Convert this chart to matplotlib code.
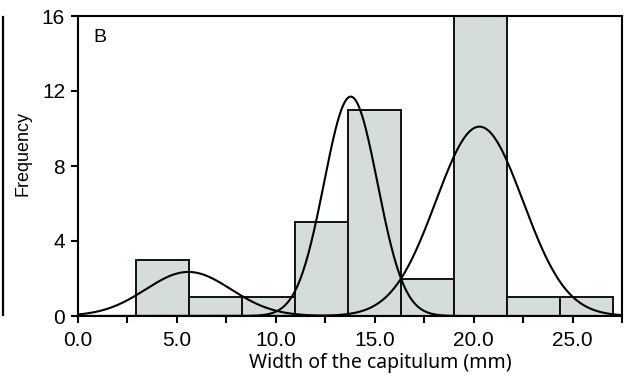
import numpy as np
import matplotlib
matplotlib.use("Agg")
import matplotlib.pyplot as plt
from matplotlib.lines import Line2D
from matplotlib.ticker import MultipleLocator, FormatStrFormatter

# Histogram of capitulum width
bin_edges = [2.95, 5.63, 8.31, 10.99, 13.67, 16.35, 19.03, 21.71, 24.39, 27.07]
counts = [3, 1, 1, 5, 11, 2, 16, 1, 1]

# Fitted normal components: mean, standard deviation, peak height
comp_means = [5.6, 13.8, 20.3]
comp_sds = [2.15, 1.35, 2.2]
comp_peaks = [2.35, 11.7, 10.1]

x_ticks = [0, 5, 10, 15, 20, 25]
y_ticks = [0, 4, 8, 12, 16]

W, H = 627, 384
fig = plt.figure(figsize=(W / 100, H / 100), dpi=100)
ax = fig.add_axes([77.5 / W, 1 - 316 / H, (622 - 77.5) / W, 300 / H])

widths = np.diff(bin_edges)
ax.bar(bin_edges[:-1], counts, width=widths, align="edge",
       color="#d4dddb", edgecolor="#111111", linewidth=1.4, zorder=2)

xs = np.linspace(0, 27.5, 600)
for m, s, p in zip(comp_means, comp_sds, comp_peaks):
    ax.plot(xs, p * np.exp(-0.5 * ((xs - m) / s) ** 2), color="black",
            linewidth=1.5, zorder=3)

ax.set_xlim(0, 27.5)
ax.set_ylim(0, 16)
ax.set_xticks(x_ticks)
ax.xaxis.set_minor_locator(MultipleLocator(2.5))
ax.xaxis.set_major_formatter(FormatStrFormatter("%.1f"))
ax.set_yticks(y_ticks)

for sp in ax.spines.values():
    sp.set_linewidth(1.5)
    sp.set_color("black")

ax.tick_params(axis="both", which="both", direction="out", width=1.5,
               length=5, color="black")
ax.tick_params(axis="x", which="major", labelsize=15, pad=6)
ax.tick_params(axis="y", which="major", labelsize=15, pad=4)
for lab in ax.get_xticklabels() + ax.get_yticklabels():
    lab.set_fontfamily(["Liberation Sans", "DejaVu Sans"])

ax.text(0.03, 0.93, "B", transform=ax.transAxes, fontsize=14,
        family=["Liberation Sans", "DejaVu Sans"], va="center", ha="left")

fig.text(380 / W, 1 - 363 / H, "Width of the capitulum (mm)", fontsize=14,
         family=["Noto Sans", "DejaVu Sans"], ha="center", va="center")
fig.text(23 / W, 1 - 153 / H, "Frequency", fontsize=13, rotation=90,
         family=["Liberation Sans Narrow", "Liberation Sans", "DejaVu Sans"],
         ha="center", va="center")

# Right edge of the neighbouring panel
fig.add_artist(Line2D([2.5 / W, 2.5 / W], [1 - 315 / H, 1 - 17 / H],
                      transform=fig.transFigure, color="black", linewidth=1.6))

fig.savefig("out.png", dpi=100)
